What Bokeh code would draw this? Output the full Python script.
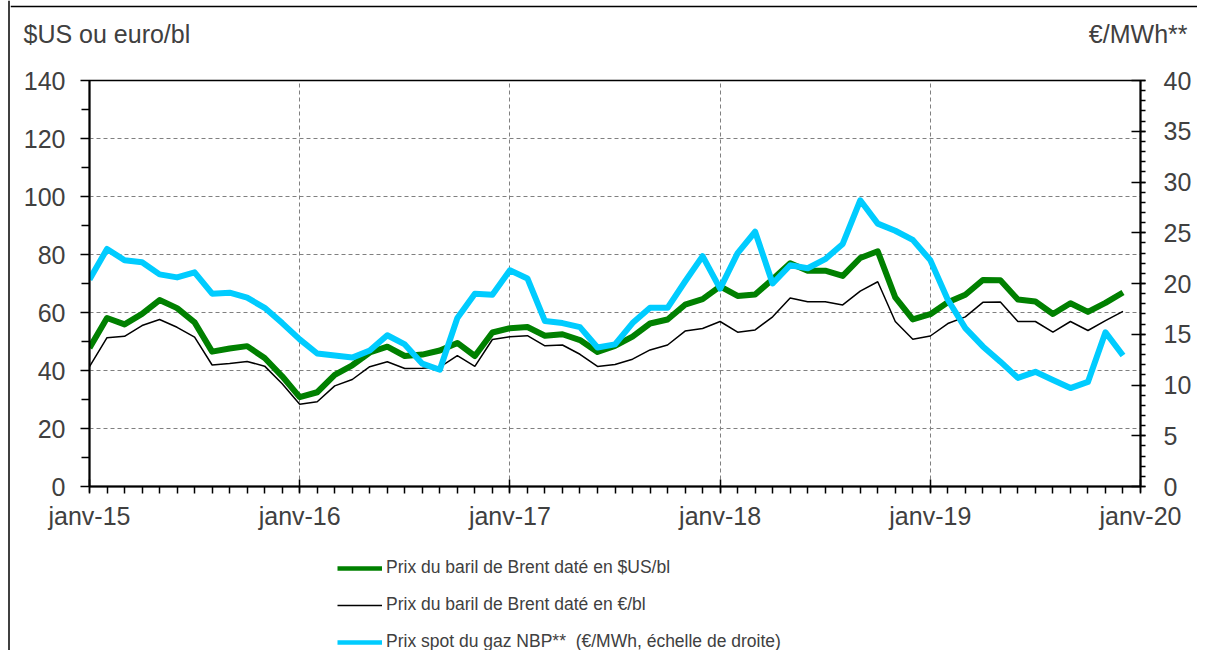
from bokeh.plotting import figure
from bokeh.layouts import row, column
from bokeh.models import (Range1d, LinearAxis, FixedTicker, Legend, LegendItem, Label, Span)
from bokeh.embed import file_html
from bokeh.resources import INLINE

# Month index: 0 = janv-15 ... 59 = déc-19
months = list(range(60))

brent_usd = [47.8, 58.1, 55.9, 59.5, 64.3, 61.5, 56.6, 46.5, 47.6, 48.4, 44.3, 38.0,
             30.8, 32.5, 38.5, 41.8, 46.2, 48.2, 45.0, 45.5, 46.9, 49.5, 45.0, 53.1,
             54.6, 55.0, 52.0, 52.5, 50.5, 46.4, 48.5, 51.7, 56.2, 57.6, 62.7, 64.6,
             69.0, 65.7, 66.2, 71.5, 77.0, 74.4, 74.4, 72.6, 78.8, 81.1, 65.2, 57.6,
             59.4, 63.5, 66.1, 71.2, 71.1, 64.5, 63.8, 59.5, 63.2, 60.2, 63.3, 66.9]

brent_eur = [41.3, 51.3, 51.8, 55.5, 57.6, 54.9, 51.5, 41.9, 42.4, 43.1, 41.5, 35.4,
             28.4, 29.2, 34.7, 36.9, 41.3, 43.0, 40.7, 40.8, 41.2, 45.1, 41.4, 50.7,
             51.6, 52.0, 48.5, 48.8, 45.6, 41.4, 42.1, 43.9, 47.1, 48.8, 53.6, 54.5,
             56.9, 53.2, 54.0, 58.5, 65.0, 63.7, 63.7, 62.6, 67.4, 70.6, 56.9, 50.8,
             51.9, 56.2, 58.5, 63.5, 63.6, 56.9, 56.9, 53.2, 56.9, 53.8, 57.2, 60.4]

gas_nbp = [20.4, 23.4, 22.3, 22.1, 20.9, 20.6, 21.1, 19.0, 19.1, 18.6, 17.6, 16.1,
           14.5, 13.1, 12.9, 12.7, 13.4, 14.9, 14.0, 12.1, 11.5, 16.6, 19.0, 18.9,
           21.3, 20.5, 16.3, 16.1, 15.7, 13.7, 14.0, 16.1, 17.6, 17.6, 20.2, 22.7,
           19.5, 23.0, 25.1, 20.0, 21.8, 21.5, 22.4, 23.9, 28.2, 25.9, 25.2, 24.3,
           22.3, 18.4, 15.6, 13.8, 12.3, 10.7, 11.3, 10.5, 9.7, 10.3, 15.2, 12.9]

year_ticks = [0, 12, 24, 36, 48, 60]
year_labels = ["janv-15", "janv-16", "janv-17", "janv-18", "janv-19", "janv-20"]
left_ticks = [0, 20, 40, 60, 80, 100, 120, 140]
right_ticks = [0, 5, 10, 15, 20, 25, 30, 35, 40]

legend_labels = ["Prix du baril de Brent daté en $US/bl",
                 "Prix du baril de Brent daté en €/bl",
                 "Prix spot du gaz NBP**  (€/MWh, échelle de droite)"]
left_title = "$US ou euro/bl"
right_title = "€/MWh**"

FONT = "Liberation Sans"
TXT = "#404040"
GREEN = "#008000"
CYAN = "#00CCFF"
NAN = float("nan")


def blank(w, h, xr, yr):
    f = figure(width=w, height=h, output_backend="svg", toolbar_location=None,
               x_range=xr, y_range=yr, x_axis_type=None, y_axis_type=None,
               min_border=0, min_border_left=0, min_border_right=0,
               min_border_top=0, min_border_bottom=0, frame_align=False)
    f.outline_line_color = None
    f.grid.visible = False
    f.background_fill_color = "white"
    f.border_fill_color = "white"
    return f


# ---------- left strip (outer frame line) ----------
strip = blank(10, 650, Range1d(0, 10), Range1d(650, 0))
strip.add_layout(Span(location=8.5, dimension="height", line_color="#000000", line_width=1.5))

# ---------- top strip: axis titles ----------
top = blank(1187, 60, Range1d(10, 1197), Range1d(60, 0))
top.add_layout(Span(location=6, dimension="width", line_color="#000000", line_width=1.5))
top.add_layout(Label(x=23, y=33, text=left_title, text_font=FONT, text_font_size="25px",
                     text_color=TXT, text_baseline="middle", text_align="left"))
top.add_layout(Label(x=1187, y=33, text=right_title, text_font=FONT, text_font_size="25px",
                     text_color=TXT, text_baseline="middle", text_align="right"))

# ---------- main chart ----------
p = figure(width=1187, height=472, output_backend="svg", toolbar_location=None,
           x_range=Range1d(0, 60), y_range=Range1d(0, 140), frame_align=False,
           min_border_left=79, min_border_right=57, min_border_top=20, min_border_bottom=45)
p.extra_y_ranges = {"gas": Range1d(0, 40)}
p.outline_line_color = "#000000"
p.outline_line_width = 1.5
p.background_fill_color = "white"
p.border_fill_color = "white"

xa = p.xaxis[0]
xa.ticker = FixedTicker(ticks=year_ticks, minor_ticks=months + [60])
xa.major_label_overrides = {t: l for t, l in zip(year_ticks, year_labels)}
xa.major_tick_in = 7
xa.major_tick_out = 6
xa.minor_tick_in = 0
xa.minor_tick_out = 7
xa.major_label_standoff = 8

ya = p.yaxis[0]
ya.ticker = FixedTicker(ticks=left_ticks, minor_ticks=[10, 30, 50, 70, 90, 110, 130])
ya.major_tick_in = 0
ya.major_tick_out = 9
ya.minor_tick_in = 0
ya.minor_tick_out = 8
ya.major_label_standoff = 15

ra = LinearAxis(y_range_name="gas")
ra.ticker = FixedTicker(ticks=right_ticks, minor_ticks=list(range(41)))
ra.major_tick_in = 9
ra.major_tick_out = 5
ra.minor_tick_in = 0
ra.minor_tick_out = 5
ra.major_label_standoff = 18
p.add_layout(ra, "right")

for ax in [xa, ya, ra]:
    ax.axis_line_color = "#000000"
    ax.axis_line_width = 2
    ax.major_tick_line_color = "#000000"
    ax.major_tick_line_width = 1.5
    ax.minor_tick_line_color = "#000000"
    ax.minor_tick_line_width = 1.5
    ax.major_label_text_font = FONT
    ax.major_label_text_font_size = "25px"
    ax.major_label_text_color = TXT

p.xgrid.ticker = FixedTicker(ticks=year_ticks)
p.ygrid.ticker = FixedTicker(ticks=left_ticks)
for g in [p.xgrid[0], p.ygrid[0]]:
    g.grid_line_color = "#808080"
    g.grid_line_dash = "4 3"
    g.grid_line_width = 1

p.line(months, brent_usd, line_color=GREEN, line_width=6, line_join="round")
p.line(months, brent_eur, line_color="#000000", line_width=1.5)
p.line(months, gas_nbp, line_color=CYAN, line_width=6, line_join="round", y_range_name="gas")

# ---------- legend strip ----------
leg = blank(1187, 118, Range1d(10, 1197), Range1d(650, 532))
l1 = leg.line(x=[NAN], y=[NAN], line_color=GREEN, line_width=4.5)
l2 = leg.line(x=[NAN], y=[NAN], line_color="#000000", line_width=1.5)
l3 = leg.line(x=[NAN], y=[NAN], line_color=CYAN, line_width=4.5)
legend = Legend(items=[LegendItem(label=legend_labels[0], renderers=[l1]),
                       LegendItem(label=legend_labels[1], renderers=[l2]),
                       LegendItem(label=legend_labels[2], renderers=[l3])],
                location=(327, -2), orientation="vertical",
                glyph_width=45, glyph_height=20, label_height=20, spacing=16,
                padding=0, margin=0, label_standoff=4,
                border_line_alpha=0, background_fill_alpha=0,
                label_text_font=FONT, label_text_font_size="17.5px", label_text_color=TXT)
leg.add_layout(legend)

layout = row(strip, column(top, p, leg, spacing=0), spacing=0)
open("out.html", "w").write(file_html(layout, INLINE))
